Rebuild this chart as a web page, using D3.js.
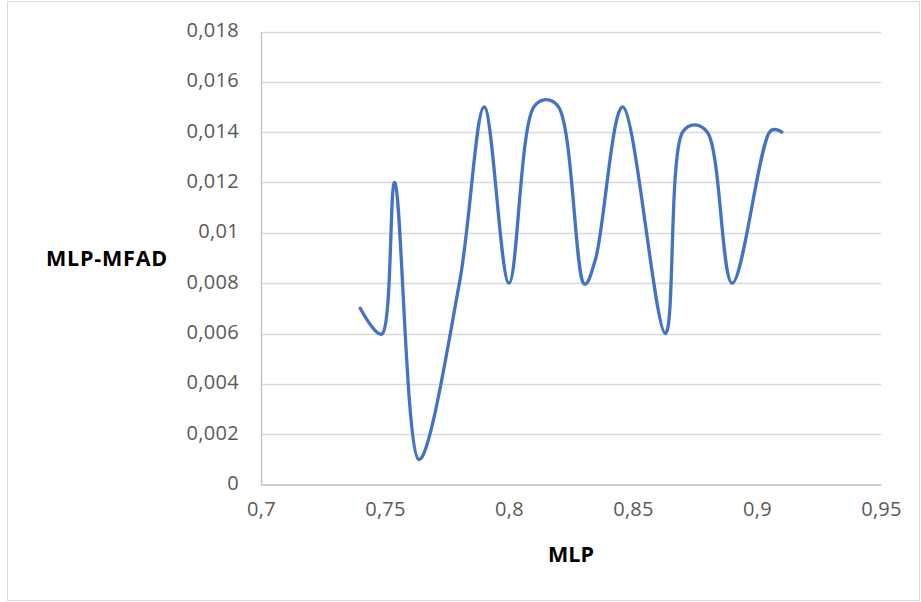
<!DOCTYPE html>
<html>
<head>
<meta charset="utf-8">
<script src="https://cdn.jsdelivr.net/npm/d3@7/dist/d3.min.js"></script>
<style>
  html, body { margin: 0; padding: 0; background: #fff; }
  svg { display: block; }
</style>
</head>
<body>
<svg id="chart" width="921" height="602"></svg>
<script>
// MLP vs MLP-MFAD series
const mlp = [0.74, 0.749, 0.754, 0.7635, 0.78, 0.79, 0.80, 0.81, 0.82, 0.83, 0.835, 0.846, 0.863, 0.87, 0.88, 0.89, 0.905, 0.91];
const mfad = [0.007, 0.006, 0.012, 0.001, 0.008, 0.015, 0.008, 0.015, 0.015, 0.008, 0.009, 0.015, 0.006, 0.014, 0.014, 0.008, 0.014, 0.014];

// Axis ticks and their labels (decimal comma)
const xTicks = [0.7, 0.75, 0.8, 0.85, 0.9, 0.95];
const xTickLabels = ["0,7", "0,75", "0,8", "0,85", "0,9", "0,95"];
const yTicks = [0, 0.002, 0.004, 0.006, 0.008, 0.01, 0.012, 0.014, 0.016, 0.018];
const yTickLabels = ["0", "0,002", "0,004", "0,006", "0,008", "0,01", "0,012", "0,014", "0,016", "0,018"];

const xTitle = "MLP";
const yTitle = "MLP-MFAD";

const svg = d3.select("#chart");
const plot = { left: 261, right: 881, top: 31.5, bottom: 484.5 };

const x = d3.scaleLinear().domain([0.7, 0.95]).range([plot.left, plot.right]);
const y = d3.scaleLinear().domain([0, 0.018]).range([plot.bottom, plot.top]);

// chart frame
svg.append("rect")
  .attr("x", 7.5).attr("y", 1.5)
  .attr("width", 912).attr("height", 599)
  .attr("fill", "#fff").attr("stroke", "#d9d9d9").attr("stroke-width", 1);

// horizontal gridlines
svg.append("g")
  .selectAll("line")
  .data(yTicks.filter(d => d > 0))
  .join("line")
  .attr("x1", plot.left).attr("x2", plot.right)
  .attr("y1", d => Math.round(y(d)) + 0.5).attr("y2", d => Math.round(y(d)) + 0.5)
  .attr("stroke", "#d9d9d9").attr("stroke-width", 1.3);

// axes without tick marks
const yAxis = d3.axisLeft(y).tickValues(yTicks).tickSize(0).tickPadding(22)
  .tickFormat((d, i) => yTickLabels[i]);
const xAxis = d3.axisBottom(x).tickValues(xTicks).tickSize(0).tickPadding(14)
  .tickFormat((d, i) => xTickLabels[i]);

const gy = svg.append("g").attr("transform", `translate(${plot.left},0)`).call(yAxis);
const gx = svg.append("g").attr("transform", `translate(0,${plot.bottom})`).call(xAxis);

[gx, gy].forEach(g => {
  g.select(".domain").attr("stroke", "#bfbfbf").attr("stroke-width", 1.3);
  g.selectAll("text")
    .attr("fill", "#595959")
    .style("font-family", "'Open Sans', 'Noto Sans', sans-serif")
    .style("font-size", "20px")
    .style("letter-spacing", "0.3px");
});
gy.selectAll("text").attr("dy", "0.25em");
gx.selectAll("text").attr("dy", "0.85em");

// series line
const line = d3.line()
  .x((d, i) => x(mlp[i]))
  .y((d, i) => y(mfad[i]))
  .curve(d3.curveCatmullRom.alpha(0.35));

svg.append("path")
  .datum(mfad)
  .attr("d", line)
  .attr("fill", "none")
  .attr("stroke", "#4472c4")
  .attr("stroke-width", 3.3)
  .attr("stroke-linecap", "round")
  .attr("stroke-linejoin", "round");

// axis titles
svg.append("text")
  .attr("x", (plot.left + plot.right) / 2).attr("y", 562)
  .attr("text-anchor", "middle")
  .attr("fill", "#000")
  .style("font-family", "'Open Sans', sans-serif")
  .style("font-weight", "700")
  .style("font-size", "21.5px")
  .text(xTitle);

svg.append("text")
  .attr("x", 46).attr("y", 266)
  .attr("fill", "#000")
  .style("font-family", "'Open Sans', sans-serif")
  .style("font-weight", "700")
  .style("font-size", "21.5px")
  .style("letter-spacing", "0.8px")
  .text(yTitle);
</script>
</body>
</html>
